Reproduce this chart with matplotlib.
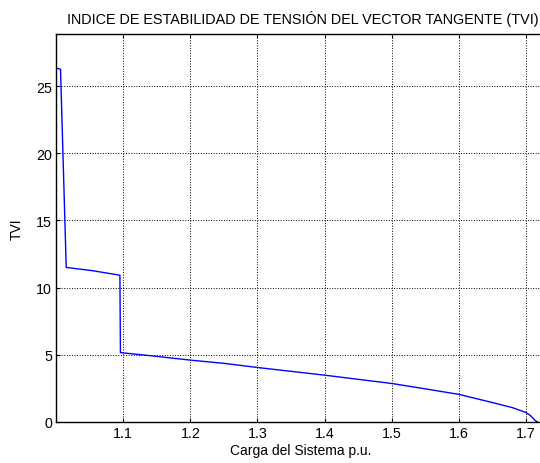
import matplotlib
matplotlib.use("Agg")
import matplotlib.pyplot as plt

plt.rcParams['font.family'] = ['Liberation Sans', 'DejaVu Sans']

carga = [1.0024, 1.0065, 1.015, 1.055, 1.095, 1.0958, 1.15, 1.2, 1.25, 1.3, 1.4, 1.5,
         1.55, 1.6, 1.65, 1.68, 1.7, 1.706, 1.711, 1.714, 1.717]
tvi = [26.33, 26.27, 11.5, 11.25, 10.92, 5.15, 4.87, 4.59, 4.35, 4.04, 3.47, 2.85,
       2.45, 2.04, 1.43, 1.05, 0.69, 0.49, 0.25, 0.08, 0.0]

xticks = [1.1, 1.2, 1.3, 1.4, 1.5, 1.6, 1.7]
xtick_labels = ['1.1', '1.2', '1.3', '1.4', '1.5', '1.6', '1.7']
yticks = [0, 5, 10, 15, 20, 25]

title = 'INDICE DE ESTABILIDAD DE TENSIÓN DEL VECTOR TANGENTE (TVI)'
xlabel = 'Carga del Sistema p.u.'
ylabel = 'TVI'

fig = plt.figure(figsize=(5.4, 4.64), dpi=100)
ax = fig.add_axes([0.104, 0.089, 0.907, 0.8356])
ax.plot(carga, tvi, color=(0, 0, 1), linewidth=1.0)
ax.set_xlim(1.0, 1.73)
ax.set_ylim(0, 28.9)
ax.set_xticks(xticks)
ax.set_xticklabels(xtick_labels)
ax.set_yticks(yticks)
ax.grid(True, color='k', linestyle=':', linewidth=0.7)
ax.tick_params(direction='in', length=3, labelsize=10.3, top=True, right=True,
               width=0.8, colors='k', pad=3)
for s in ax.spines.values():
    s.set_linewidth(1.0)
fig.text(0.997, 1 - 19 / 464, title, fontsize=10.4, ha='right', va='center')
ax.set_xlabel(xlabel, fontsize=10, labelpad=2)
ax.set_ylabel(ylabel, fontsize=10, labelpad=9)
fig.savefig('out.png', dpi=100)
